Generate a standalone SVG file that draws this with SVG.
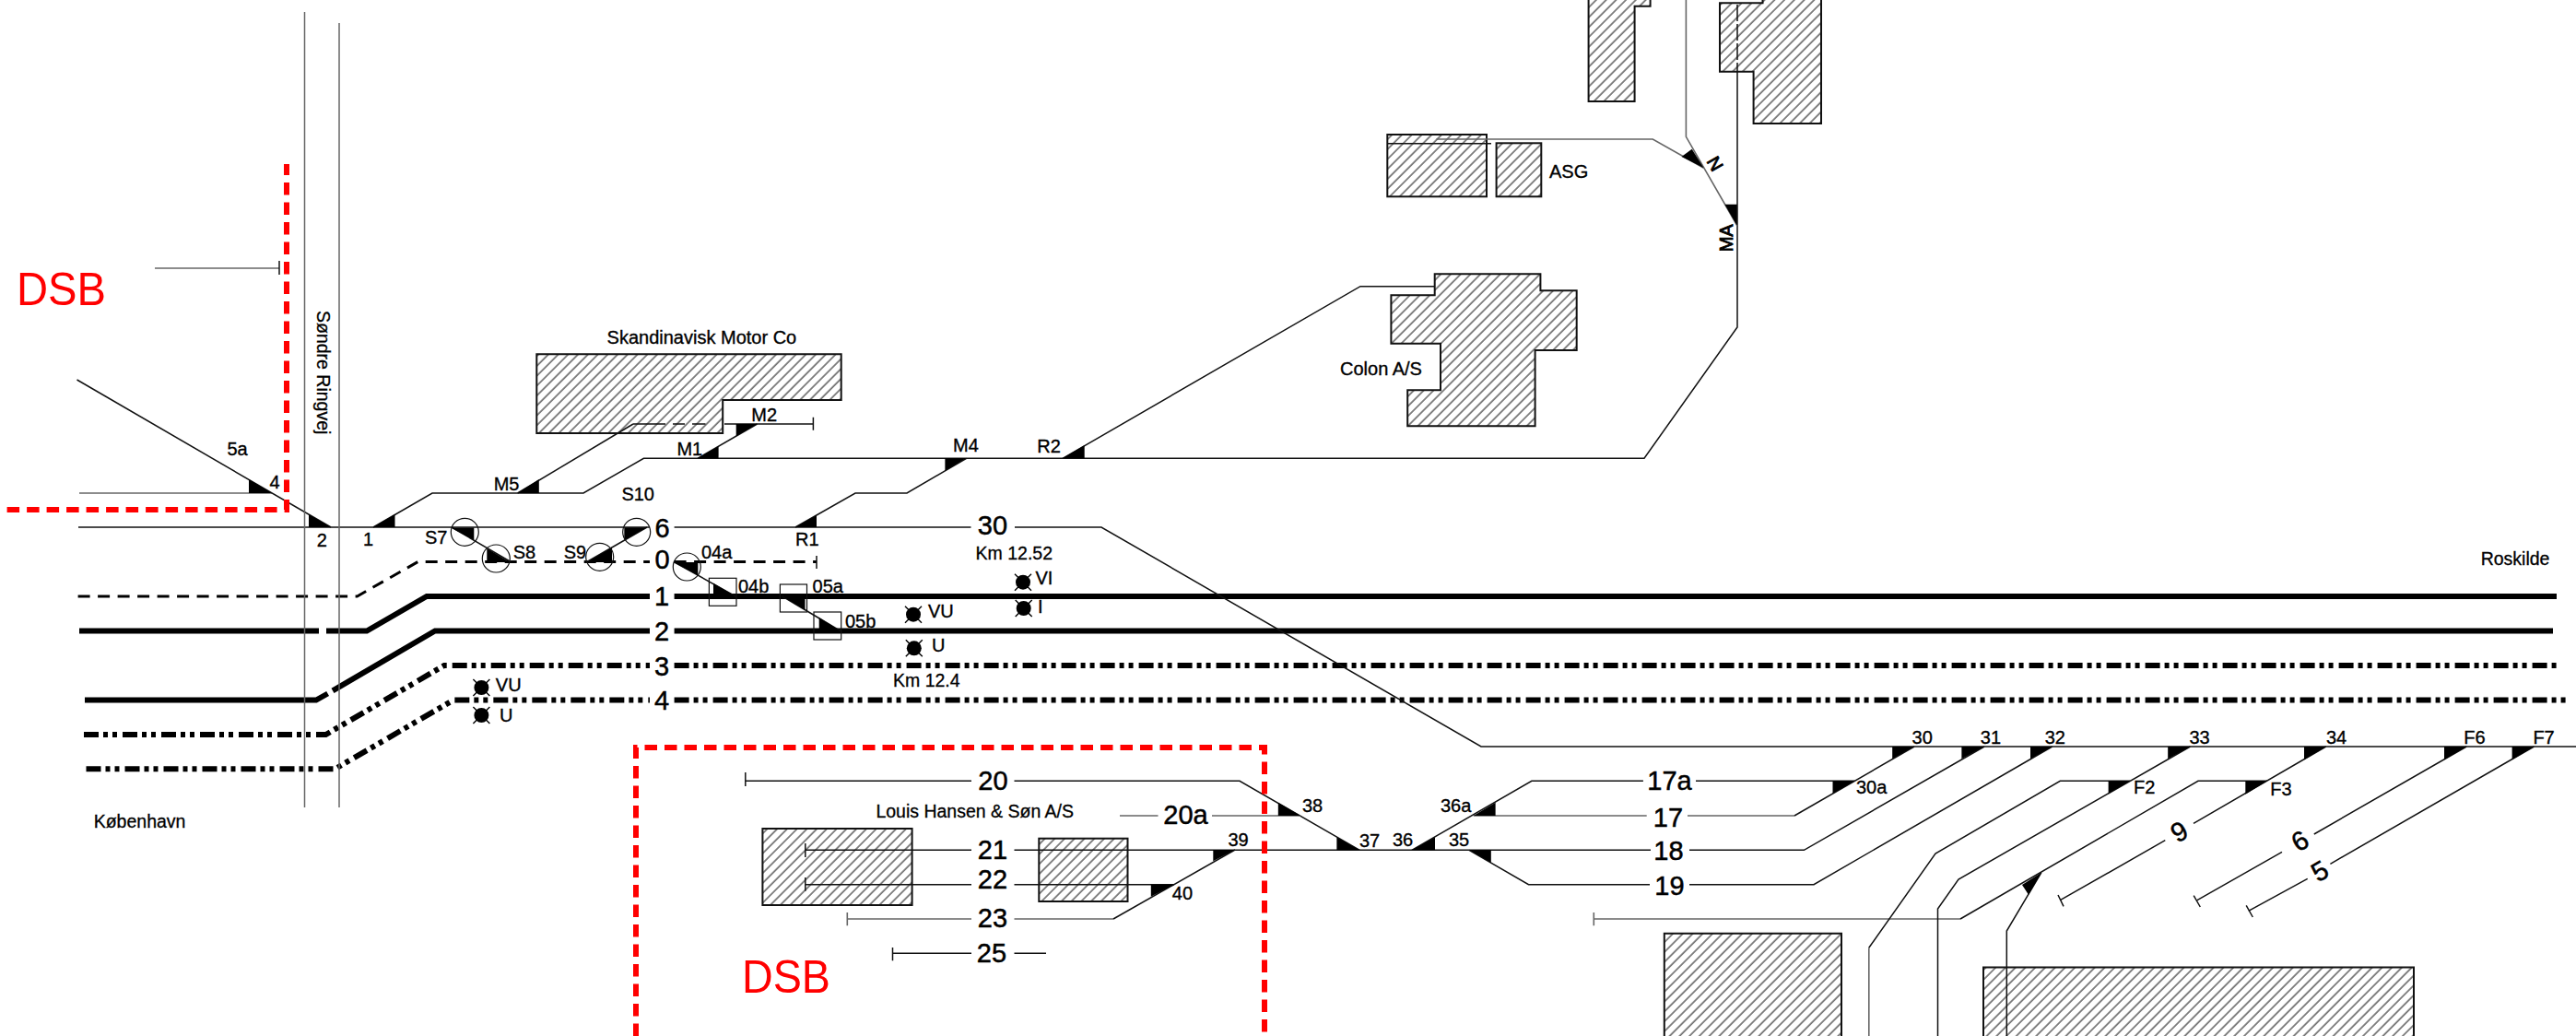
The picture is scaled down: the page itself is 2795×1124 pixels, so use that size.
<svg xmlns="http://www.w3.org/2000/svg" width="2795" height="1124" viewBox="0 0 2795 1124">
<style>
text{font-family:"Liberation Sans",Arial,sans-serif;fill:#000}
.t{font-size:20px;stroke:#000;stroke-width:.35}
.s{font-size:19.5px;stroke:#000;stroke-width:.3}
.n{font-size:29px;text-anchor:middle;stroke:#000;stroke-width:.5}
.hv{stroke-width:.9}
.red{font-size:50px;fill:#f00}
.l{fill:none;stroke:#111;stroke-width:1.5}
.g{fill:none;stroke:#666;stroke-width:1.6}
.b{fill:url(#hatch);stroke:#111;stroke-width:2}
.sw{fill:#000;stroke:none}
.c{fill:none;stroke:#111;stroke-width:1.2}
.r{fill:none;stroke:#666;stroke-width:1.5}
.th{fill:none;stroke:#000;stroke-width:6}
.d0{fill:none;stroke:#000;stroke-width:3;stroke-dasharray:13 8.5}
.dd{fill:none;stroke:#000;stroke-width:6;stroke-dasharray:16 5 5 5 5 6}
.rd{fill:none;stroke:#f00;stroke-width:6;stroke-dasharray:13.5 8}
</style>
<defs>
<pattern id="hatch" patternUnits="userSpaceOnUse" width="7.6" height="7.6" patternTransform="rotate(45)">
<rect width="7.6" height="7.6" fill="#fff"/><line x1="1" y1="0" x2="1" y2="7.6" stroke="#222" stroke-width="1.1"/>
</pattern>
<g id="sig"><circle r="8" fill="#000"/><path d="M-9-9L9 9M9-9L-9 9" stroke="#000" stroke-width="1.4"/></g>
</defs>

<g id="buildings">
<path id="b-top-left" class="b" d="M1723.6 -3V110H1773.6V6.7H1790.6V-3"/>
<path id="b-top-right" class="b" d="M1912.5 -3V3.3H1866V77.7H1902.6V134H1976V-3Z"/>
<rect id="b-asg1" class="b" x="1505.3" y="146" width="107.7" height="67.3"/>
<path class="l" d="M1505.3 155.7H1618"/>
<rect id="b-asg2" class="b" x="1623.6" y="155.3" width="48.7" height="58"/>
<path id="b-colon" class="b" d="M1556.7 297.3H1671.4V315.3H1710.7V380H1665.6V462.3H1527.2V423.3H1563V372.7H1509.4V320.3H1556.7Z"/>
<path id="b-skandinavisk" class="b" d="M582.3 384.3H912.7V434H784.2V470H582.3Z"/>
<rect id="b-louis1" class="b" x="827.4" y="899" width="162.2" height="83"/>
<rect id="b-louis2" class="b" x="1127.3" y="909.7" width="96.2" height="68.3"/>
<path id="b-bottom1" class="b" d="M1805.8 1130V1012.7H1998V1130"/>
<path id="b-bottom2" class="b" d="M2152 1130V1049.5H2619V1130"/>
</g>

<g id="connectors">
<path class="th" d="M86 684.5H346M354 684.5H398L463 647H705M731.6 647H2774"/>
<path class="th" d="M92 759.5H343L355.6 752.5M361 749.3L472 684.5H705M731.6 684.5H2770"/>
<path class="d0" d="M84.6 647H387.5L453.5 609.5H705M731.6 609.5H886"/>
<path class="dd" d="M91 797H353.5L482 722H705M731.6 722H2774"/>
<path class="dd" d="M93.5 834.3H363.4L492 759.5H705M731.6 759.5H2785"/>
<path class="l" d="M886 603V617"/>
<path class="l" d="M85 572H705M731.6 572H1053.5M1101 572H1195L1607 810H2795"/>
<path class="g" d="M86 535H295"/>
<path class="l" d="M83.5 412L359 572"/>
<path class="l" d="M405 572L469 535H633L698.4 497.3H1784L1885 355V78"/>
<path class="l" d="M1885 5V78" stroke-dasharray="18 3"/>
<path class="l" d="M561.6 535L687 460"/>
<path class="l" d="M687 460H722M730 460H743M751 460H765.5M786 460H882.4M882.4 452.7V466.7"/>
<path class="l" d="M821.5 460L757 497.3"/>
<path class="l" d="M1048.6 497.3L984 535H928L863 572"/>
<path class="l" d="M1153 497.3L1476 310.7H1557"/>
<path class="g" d="M1558.5 151H1793.3L1848.6 182.3"/>
<path class="g" d="M1829.4 0V148.3L1885 245"/>
<path class="g" d="M168 291H303"/>
<path class="l" d="M303 283V298"/>
<path class="l" d="M490 572L554 609.5M637 609.5L702 572M731 609.5L798 647"/>
<path class="l" d="M849 647L911.7 684.5" stroke-width="2.6"/>
<path class="l" d="M808.8 838V853M808.8 847.3H1054M1100.5 847.3H1345L1475.3 922.3"/>
<path class="g" d="M1215 885H1256.5M1315 885H1411"/>
<path class="l" d="M873.8 915V930M873.8 922.3H1054M1100.5 922.3H1791M1833 922.3H1957.4L2153 810"/>
<path class="l" d="M873.8 952V966.7M873.8 959.7H1054M1100.5 959.7H1274"/>
<path class="g" d="M919.3 990V1004.3M919.3 997H1054M1100.5 997H1208"/>
<path class="l" d="M1208 997L1340 922"/>
<path class="l" d="M968.5 1028V1042.3M968.5 1034.3H1054M1100.5 1034.3H1135"/>
<path class="l" d="M1531.8 922.3L1661.9 847.3H1782.9M1840 847.3H2012.4"/>
<path class="g" d="M1598.7 885H1786.7M1831 885H1947"/>
<path class="l" d="M1947 885L2077 810"/>
<path class="l" d="M1594 922.3L1658.5 959.7H1790M1833 959.7H1968L2226.7 810"/>
<path class="g" d="M1729.3 990V1004.3M1729.3 997H2127"/>
<path class="l" d="M2127 997L2385 847.3H2460"/>
<path class="l" d="M2214.9 946.7L2177.3 1010V1124"/>
<path class="l" d="M2376.4 810L2125 954L2102.5 986V1124"/>
<path class="l" d="M2311.3 847.3H2235.3L2100 926L2027.8 1028.3"/>
<path class="g" d="M2027.8 1028.3V1124"/>
<path class="l" d="M2523.7 810L2380 893.3M2349.3 911.7L2235.3 976.7M2233 971L2239 983.3"/>
<path class="l" d="M2676.2 810L2510.8 905M2476 924.3L2384 976.7M2380.2 971.7L2387.3 984"/>
<path class="l" d="M2749.4 810L2528.4 937.3M2503.7 953.3L2439.6 988.3M2437.2 982.3L2444.3 995"/>
<path class="r" d="M330.5 13V876"/>
<path class="r" d="M368 25V876"/>
</g>

<g id="switches">
<polygon class="sw" points="270,535 295,535 270,520"/>
<polygon class="sw" points="335,572 359,572 335,558"/>
<polygon class="sw" points="405,572 428.5,572 428.5,558"/>
<polygon class="sw" points="561.6,535 584.8,535 584.8,520"/>
<polygon class="sw" points="489.3,572.5 514.3,572.5 514.3,586"/>
<polygon class="sw" points="528.3,595 528.3,610 553.3,610"/>
<polygon class="sw" points="636.7,610 664,610 664,594"/>
<polygon class="sw" points="701.7,572.3 677.3,572.3 677.3,586"/>
<polygon class="sw" points="730.7,610 757.3,610 757.3,624"/>
<polygon class="sw" points="774,632.7 774,647 798,647"/>
<polygon class="sw" points="849,647 873.5,647 873.5,661.7"/>
<polygon class="sw" points="888.7,670 888.7,684.5 911.7,684.5"/>
<polygon class="sw" points="798.7,460 821.5,460 798.7,473.3"/>
<polygon class="sw" points="756.4,497.3 779.6,497.3 779.6,484.3"/>
<polygon class="sw" points="1025.4,497 1048.6,497 1025.4,510.7"/>
<polygon class="sw" points="863,572 886,572 886,559"/>
<polygon class="sw" points="1153,497.3 1176.7,497.3 1176.7,483"/>
<polygon class="sw" points="1848.6,182.3 1835.7,161.7 1824.5,170"/>
<polygon class="sw" points="1884.8,245 1884.8,221.7 1871.4,221.7"/>
<polygon class="sw" points="1386.8,870.7 1386.8,885 1411.2,885"/>
<polygon class="sw" points="1450.4,908.3 1450.4,922.3 1475.3,922.3"/>
<polygon class="sw" points="1531.8,922.3 1557,922.3 1557,908.3"/>
<polygon class="sw" points="1598.7,885 1622.6,885 1622.6,870.7"/>
<polygon class="sw" points="1594,922.3 1617.8,922.3 1617.8,936"/>
<polygon class="sw" points="1248.8,959.7 1274,959.7 1248.8,972.7"/>
<polygon class="sw" points="1316.3,922 1340,922 1316.3,934.3"/>
<polygon class="sw" points="1988.5,847.3 2012.4,847.3 1988.5,861"/>
<polygon class="sw" points="2053.2,810 2077,810 2053.2,823.3"/>
<polygon class="sw" points="2128.4,810 2153,810 2128.4,823.3"/>
<polygon class="sw" points="2203,810 2226.7,810 2203,823.3"/>
<polygon class="sw" points="2352.2,810 2376.4,810 2352.2,823.3"/>
<polygon class="sw" points="2500,810 2523.7,810 2500,824.3"/>
<polygon class="sw" points="2652,810 2676.2,810 2652,824.3"/>
<polygon class="sw" points="2725.6,810 2749.4,810 2725.6,824.3"/>
<polygon class="sw" points="2287.6,847.3 2311.3,847.3 2287.6,861"/>
<polygon class="sw" points="2436.3,847.3 2460,847.3 2436.3,861.7"/>
<polygon class="sw" points="2194,960 2214.9,946.7 2201,970.7"/>
<circle class="c" cx="504.3" cy="577.3" r="15"/>
<circle class="c" cx="538.3" cy="606" r="15"/>
<circle class="c" cx="650.7" cy="604.3" r="15"/>
<circle class="c" cx="690.7" cy="577.3" r="15"/>
<circle class="c" cx="745.3" cy="615" r="15"/>
<rect class="c" x="769.4" y="627.3" width="29.6" height="30" stroke="#555"/>
<rect class="c" x="846.4" y="634" width="29.1" height="30"/>
<rect class="c" x="883" y="664" width="29.7" height="30"/>
</g>

<g id="signals">
<use href="#sig" x="991" y="666.7"/>
<use href="#sig" x="991.8" y="703.3"/>
<use href="#sig" x="1110" y="631.7"/>
<use href="#sig" x="1110.7" y="660"/>
<use href="#sig" x="522.4" y="746"/>
<use href="#sig" x="522.4" y="776"/>
</g>

<g id="dsb-boundaries">
<path class="rd" d="M7.6 553H311V178"/>
<path class="rd" d="M690 1124V811H1372V1124"/>
<text class="red" x="18" y="331" textLength="97" lengthAdjust="spacingAndGlyphs">DSB</text>
<text class="red" x="805" y="1077" textLength="96" lengthAdjust="spacingAndGlyphs">DSB</text>
</g>

<g id="labels">
<text class="t" x="658.6" y="373">Skandinavisk Motor Co</text>
<text class="t" x="1681" y="192.7">ASG</text>
<text class="t" x="1454" y="407.3">Colon A/S</text>
<text class="t hv" transform="translate(1880,273.3) rotate(-90)">MA</text>
<text class="t hv" text-anchor="middle" transform="translate(1861,177.5) rotate(60)" dy="7">N</text>
<text class="s" transform="translate(344,337) rotate(90)">Søndre Ringvej</text>
<text class="s" x="2691.7" y="612.7">Roskilde</text>
<text class="s" x="101.7" y="898.3">København</text>
<text class="s" x="950.4" y="887.3">Louis Hansen &amp; Søn A/S</text>
<text class="s" x="1058.6" y="607.3">Km 12.52</text>
<text class="s" x="969" y="745">Km 12.4</text>
<text class="t" x="246.4" y="494.3">5a</text>
<text class="t" x="292.4" y="530">4</text>
<text class="t" x="343.7" y="593.3">2</text>
<text class="t" x="394" y="591.7">1</text>
<text class="t" x="535.7" y="531.7">M5</text>
<text class="t" x="734.4" y="494">M1</text>
<text class="t" x="815.3" y="456.7">M2</text>
<text class="t" x="1034" y="490">M4</text>
<text class="t" x="1125.3" y="491">R2</text>
<text class="t" x="863" y="591.7">R1</text>
<text class="t" x="674.4" y="542.7">S10</text>
<text class="t" x="461" y="590">S7</text>
<text class="t" x="556.7" y="606">S8</text>
<text class="t" x="611.7" y="606">S9</text>
<text class="t" x="761" y="606">04a</text>
<text class="t" x="801" y="643.3">04b</text>
<text class="t" x="881.6" y="643.3">05a</text>
<text class="t" x="917" y="681">05b</text>
<text class="t" x="1123.5" y="634.3">VI</text>
<text class="t" x="1126" y="665">I</text>
<text class="t" x="1007" y="670">VU</text>
<text class="t" x="1011" y="706.7">U</text>
<text class="t" x="537.8" y="750">VU</text>
<text class="t" x="542" y="782.7">U</text>
<text class="t" x="1271.8" y="976">40</text>
<text class="t" x="1332.5" y="917.7">39</text>
<text class="t" x="1413" y="881">38</text>
<text class="t" x="1475" y="919">37</text>
<text class="t" x="1511" y="918.3">36</text>
<text class="t" x="1572" y="918.3">35</text>
<text class="t" x="1563" y="880.7">36a</text>
<text class="t" x="2013.9" y="861">30a</text>
<text class="t" x="2074.6" y="807">30</text>
<text class="t" x="2148.8" y="806.7">31</text>
<text class="t" x="2218.7" y="806.7">32</text>
<text class="t" x="2375.4" y="806.7">33</text>
<text class="t" x="2524" y="806.7">34</text>
<text class="t" x="2673.3" y="806.7">F6</text>
<text class="t" x="2748.4" y="806.7">F7</text>
<text class="t" x="2315" y="861">F2</text>
<text class="t" x="2463.3" y="863.3">F3</text>
<text class="n" x="718.5" y="583.3">6</text>
<text class="n" x="718.5" y="617">0</text>
<text class="n" x="718" y="657">1</text>
<text class="n" x="718" y="695">2</text>
<text class="n" x="718" y="733">3</text>
<text class="n" x="718" y="770">4</text>
<text class="n" x="1077" y="580">30</text>
<text class="n" x="1077.5" y="857">20</text>
<text class="n" x="1286.5" y="893.5">20a</text>
<text class="n" x="1077" y="931.7">21</text>
<text class="n" x="1077" y="964">22</text>
<text class="n" x="1077" y="1006">23</text>
<text class="n" x="1076" y="1044.3">25</text>
<text class="n" x="1811.5" y="857.3">17a</text>
<text class="n" x="1810" y="896.7">17</text>
<text class="n" x="1810.5" y="932.7">18</text>
<text class="n" x="1811.5" y="970.7">19</text>
<text class="n" transform="translate(2364.5,902.3) rotate(-30)" y="10">9</text>
<text class="n" transform="translate(2495.6,912.3) rotate(-30)" y="10">6</text>
<text class="n" transform="translate(2517,945) rotate(-30)" y="10">5</text>
</g>
</svg>
